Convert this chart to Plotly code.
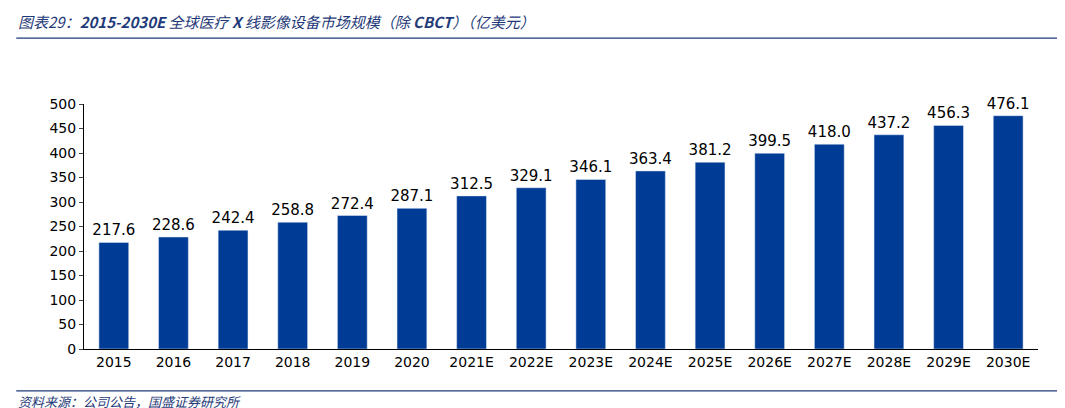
import plotly.graph_objects as go

years = ["2015","2016","2017","2018","2019","2020","2021E","2022E","2023E","2024E","2025E","2026E","2027E","2028E","2029E","2030E"]
values = [217.6,228.6,242.4,258.8,272.4,287.1,312.5,329.1,346.1,363.4,381.2,399.5,418.0,437.2,456.3,476.1]
labels = [f"{v:.1f}" for v in values]

fig = go.Figure(go.Bar(x=years, y=values, text=labels, textposition="outside",
    marker_color="#003C96", width=0.5, cliponaxis=False, constraintext="none",
    textfont=dict(size=15, color="#000")))
fig.update_layout(
    width=1065, height=408, plot_bgcolor="white", paper_bgcolor="white",
    margin=dict(l=76, r=35, t=96, b=67, autoexpand=False),
    font=dict(family="DejaVu Sans, Noto Sans CJK SC", size=14, color="#000"),
    showlegend=False,
    xaxis=dict(showline=True, linecolor="#000", ticks="", tickfont=dict(size=14)),
    yaxis=dict(range=[0,500], dtick=50, showline=True, linecolor="#000", ticks="outside",
               ticklen=4, showgrid=False, tickfont=dict(size=14)),
    shapes=[
        dict(type="line", xref="paper", yref="paper", x0=-0.071, x1=1.032, y0=1.269, y1=1.269, line=dict(color="#1F3A78", width=1.2)),
        dict(type="line", xref="paper", yref="paper", x0=-0.071, x1=1.032, y0=-0.171, y1=-0.171, line=dict(color="#1F3A78", width=1.2)),
    ],
    annotations=[
        dict(text="<i>图表29：<b>2015-2030E</b> 全球医疗 <b>X</b> 线影像设备市场规模（除 <b>CBCT</b>）（亿美元）</i>",
             xref="paper", yref="paper", x=-0.071, y=1.335, xanchor="left", yanchor="middle",
             showarrow=False, font=dict(size=15, color="#1F3A78", family="Noto Sans CJK SC")),
        dict(text="<i>资料来源：公司公告，国盛证券研究所</i>",
             xref="paper", yref="paper", x=-0.071, y=-0.216, xanchor="left", yanchor="middle",
             showarrow=False, font=dict(size=13, color="#1F3A78", family="Noto Sans CJK SC")),
    ],
)
fig.write_html("out.html")
